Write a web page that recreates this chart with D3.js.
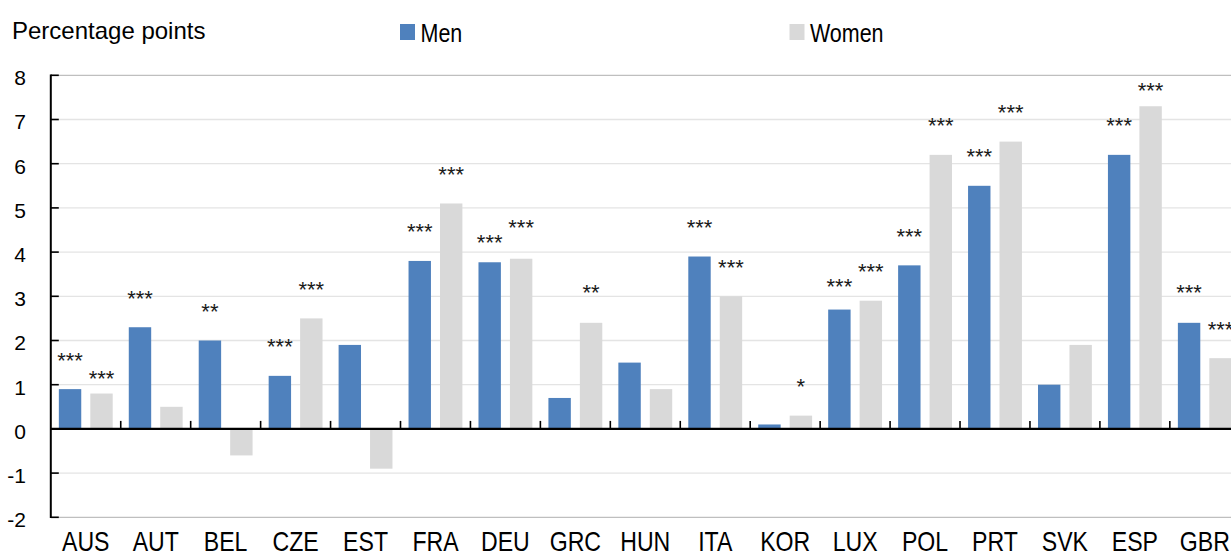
<!DOCTYPE html>
<html>
<head>
<meta charset="utf-8">
<script src="https://cdn.jsdelivr.net/npm/d3@7"></script>
<style>
  html, body { margin: 0; padding: 0; background: #ffffff; overflow: hidden; }
  svg { display: block; }
</style>
</head>
<body>
<svg id="chart" width="1231" height="556"></svg>
<script>
// Countries along the horizontal axis
const countries = ["AUS", "AUT", "BEL", "CZE", "EST", "FRA", "DEU", "GRC", "HUN",
                   "ITA", "KOR", "LUX", "POL", "PRT", "SVK", "ESP", "GBR"];

// Change in percentage points, by sex
const men   = [0.9, 2.3, 2.0, 1.2, 1.9, 3.8, 3.77, 0.7, 1.5, 3.9, 0.1, 2.7, 3.7, 5.5, 1.0, 6.2, 2.4];
const women = [0.8, 0.5, -0.6, 2.5, -0.9, 5.1, 3.85, 2.4, 0.9, 3.0, 0.3, 2.9, 6.2, 6.5, 1.9, 7.3, 1.6];

// Significance markers and the height (percentage points) at which each one sits
const menSig   = ["***", "***", "**", "***", "", "***", "***", "", "", "***", "", "***", "***", "***", "", "***", "***"];
const womenSig = ["***", "", "", "***", "", "***", "***", "**", "", "***", "*", "***", "***", "***", "", "***", "***"];
const menSigAt   = [1.66, 3.06, 2.77, 1.98, 0, 4.58, 4.33, 0, 0, 4.68, 0, 3.34, 4.47, 6.28, 0, 6.98, 3.19];
const womenSigAt = [1.25, 0, 0, 3.26, 0, 5.87, 4.68, 3.19, 0, 3.76, 1.08, 3.68, 6.98, 7.28, 0, 7.77, 2.37];

// Value axis ticks
const yTicks = [-2, -1, 0, 1, 2, 3, 4, 5, 6, 7, 8];

const seriesNames = ["Men", "Women"];
const colors = { Men: "#4f81bd", Women: "#d9d9d9" };

const W = 1231, H = 556;
const left = 50.8, step = 69.94;
const svg = d3.select("#chart");

const x = d3.scaleBand()
  .domain(countries)
  .range([left, left + step * countries.length])
  .paddingInner(0).paddingOuter(0);

const xs = d3.scaleBand()
  .domain(seriesNames)
  .range([0, x.bandwidth()])
  .paddingInner(0.2875)
  .paddingOuter(0.2556);

const y = d3.scaleLinear().domain([-2, 8]).range([517.3, 75.3]);

// Condensed look: regular sans squeezed horizontally
const font = "'Liberation Sans', Arial, sans-serif";
const squeeze = "scale(0.81,1)";

// Horizontal gridlines; the outer two frame the plot
svg.append("g")
  .selectAll("line")
  .data(yTicks)
  .join("line")
  .attr("x1", left).attr("x2", W)
  .attr("y1", d => y(d)).attr("y2", d => y(d))
  .attr("stroke", d => (d === 8 || d === -2) ? "#bfbfbf" : "#e4e4e4")
  .attr("stroke-width", 1.3);

// Bars
const rows = countries.map((c, i) => ({
  country: c,
  values: [
    { key: "Men", value: men[i], sig: menSig[i], sigAt: menSigAt[i] },
    { key: "Women", value: women[i], sig: womenSig[i], sigAt: womenSigAt[i] }
  ]
}));

const groups = svg.append("g")
  .selectAll("g")
  .data(rows)
  .join("g")
  .attr("transform", d => `translate(${x(d.country)},0)`);

groups.selectAll("rect")
  .data(d => d.values)
  .join("rect")
  .attr("x", d => xs(d.key))
  .attr("width", xs.bandwidth())
  .attr("y", d => y(Math.max(0, d.value)))
  .attr("height", d => Math.abs(y(d.value) - y(0)))
  .attr("fill", d => colors[d.key]);

// Significance stars
groups.selectAll("text.sig")
  .data(d => d.values.filter(v => v.sig))
  .join("text")
  .attr("class", "sig")
  .attr("x", d => xs(d.key) + xs.bandwidth() / 2)
  .attr("y", d => y(d.sigAt) + 12.5)
  .attr("text-anchor", "middle")
  .attr("font-family", font)
  .attr("font-size", 22)
  .attr("fill", "#1a1a1a")
  .text(d => d.sig);

// Zero line
svg.append("line")
  .attr("x1", left).attr("x2", W)
  .attr("y1", y(0)).attr("y2", y(0))
  .attr("stroke", "#000").attr("stroke-width", 2.2);

// Category separators on the zero line
svg.append("g")
  .selectAll("line")
  .data(countries.slice(1))
  .join("line")
  .attr("x1", d => x(d)).attr("x2", d => x(d))
  .attr("y1", y(0) - 8).attr("y2", y(0))
  .attr("stroke", "#000").attr("stroke-width", 1.6);

// Value axis line and inward ticks
svg.append("line")
  .attr("x1", left).attr("x2", left)
  .attr("y1", y(8) - 0.7).attr("y2", y(-2) + 0.7)
  .attr("stroke", "#000").attr("stroke-width", 2);

svg.append("g")
  .selectAll("line")
  .data(yTicks)
  .join("line")
  .attr("x1", left).attr("x2", left + 8)
  .attr("y1", d => y(d)).attr("y2", d => y(d))
  .attr("stroke", "#000").attr("stroke-width", 1.6);

// Value axis labels
const yAxis = svg.append("g")
  .attr("transform", "translate(29,0)")
  .call(d3.axisLeft(y).tickValues(yTicks).tickSize(0).tickPadding(3).tickFormat(d => String(d)));
yAxis.select(".domain").remove();
yAxis.selectAll("text")
  .attr("dy", "0.45em")
  .attr("font-family", font)
  .attr("font-size", 21)
  .attr("fill", "#000");

// Category labels
const xAxis = svg.append("g")
  .attr("transform", "translate(0,530)")
  .call(d3.axisBottom(x).tickSize(0).tickPadding(0));
xAxis.select(".domain").remove();
xAxis.selectAll("text")
  .attr("dy", "0.72em")
  .attr("transform", squeeze)
  .attr("font-family", font)
  .attr("font-size", 28.5)
  .attr("fill", "#000");

// Axis title
svg.append("text")
  .attr("x", 12).attr("y", 39.3)
  .attr("font-family", font)
  .attr("font-size", 24)
  .attr("fill", "#000")
  .text("Percentage points");

// Legend
const legendPos = { Men: 400, Women: 789.5 };
const legend = svg.append("g")
  .selectAll("g")
  .data(seriesNames)
  .join("g")
  .attr("transform", d => `translate(${legendPos[d]},0)`);
legend.append("rect")
  .attr("x", 0).attr("y", 24)
  .attr("width", 15).attr("height", 16)
  .attr("fill", d => colors[d]);
legend.append("text")
  .attr("transform", "translate(20.5,41.7) " + squeeze)
  .attr("font-family", font)
  .attr("font-size", 26.5)
  .attr("fill", "#000")
  .text(d => d);
</script>
</body>
</html>
